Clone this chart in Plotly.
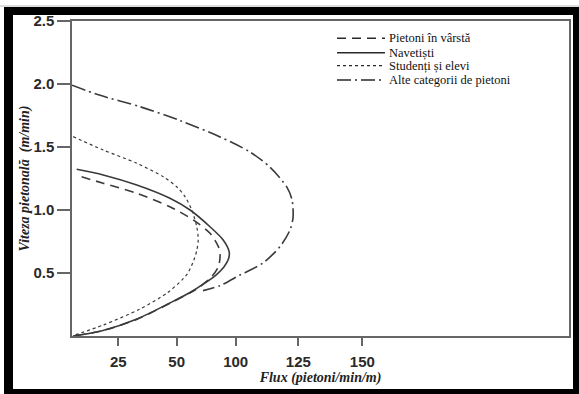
import plotly.graph_objects as go

# ---- data (flux in axis units, speed in m/min) ----
tick_pos = [19.3, 43.6, 68.2, 94.3, 121.0]
tick_lbl = ["25", "50", "100", "125", "150"]
y_tick_vals = [0.5, 1.0, 1.5, 2.0, 2.5]
y_tick_lbl = ["0.5", "1.0", "1.5", "2.0", "2.5"]

varsta_flux = [4.0, 13.0, 27.0, 40.8, 50.5, 57.5, 61.0, 61.7, 61.0, 58.2, 53.3, 49.2, 40.8, 27.1, 12.9, 0.4]
varsta_speed = [1.264, 1.212, 1.133, 1.026, 0.921, 0.815, 0.709, 0.643, 0.550, 0.471, 0.391, 0.343, 0.260, 0.133, 0.043, 0.0]

navet_flux = [1.96, 13.0, 27.0, 40.8, 49.2, 57.5, 63.0, 65.5, 65.2, 63.3, 60.0, 55.4, 49.2, 40.8, 27.1, 12.9, 0.4]
navet_speed = [1.323, 1.278, 1.198, 1.093, 1.0, 0.867, 0.762, 0.667, 0.611, 0.548, 0.484, 0.421, 0.345, 0.262, 0.135, 0.044, 0.0]

stud_flux = [0.5, 13.0, 27.0, 38.0, 43.6, 47.1, 49.9, 52.0, 52.6, 52.0, 50.8, 48.3, 45.8, 39.6, 28.3, 13.0, 0.5]
stud_speed = [1.582, 1.476, 1.371, 1.264, 1.185, 1.106, 1.0, 0.867, 0.762, 0.680, 0.603, 0.5, 0.444, 0.341, 0.214, 0.087, 0.004]

alte_flux = [0.0, 11.7, 28.3, 45.0, 61.7, 74.2, 82.5, 89.6, 91.7, 92.1, 90.8, 86.7, 79.6, 70.0, 61.7, 54.6]
alte_speed = [1.99, 1.91, 1.82, 1.71, 1.58, 1.46, 1.34, 1.18, 1.08, 0.94, 0.84, 0.71, 0.58, 0.484, 0.40, 0.36]

names = ["Pietoni în vârstă", "Navetiști", "Studenți și elevi", "Alte categorii de pietoni"]
dashes = ["9px,6px", "solid", "dot", "14px,4px,2px,4px"]
widths = [1.6, 1.6, 1.2, 1.6]

W, H = 579, 394
L, R, T, B = 72, 10, 21, 58
PW, PH = W - L - R, H - T - B

def px(x):
    return (x - L) / PW

def py(y):
    return (H - B - y) / PH

fig = go.Figure()
series = [(varsta_flux, varsta_speed), (navet_flux, navet_speed),
          (stud_flux, stud_speed), (alte_flux, alte_speed)]
for (xs, ys), nm, d, w in zip(series, names, dashes, widths):
    fig.add_trace(go.Scatter(x=xs, y=ys, mode="lines", name=nm,
                             line=dict(color="#3a3a3a", width=w, dash=d,
                                       shape="spline", smoothing=0.8),
                             showlegend=False))

shapes = []
annotations = []
# manual legend
rows_y = [38.3, 52.7, 65.7, 80.0]
for ry, nm, d, w in zip(rows_y, names, dashes, widths):
    shapes.append(dict(type="line", xref="paper", yref="paper",
                       x0=px(337), x1=px(385), y0=py(ry), y1=py(ry),
                       line=dict(color="#2a2a2a", width=w, dash=d)))
    annotations.append(dict(xref="paper", yref="paper", x=px(387), y=py(ry),
                            xanchor="left", yanchor="middle", showarrow=False,
                            text=nm, font=dict(family="Liberation Serif", size=12.5, color="#111")))

# outer black frame
for (x0, x1, y0, y1) in [(4, 579, 7, 15), (4, 13, 7, 394), (573, 579, 7, 394), (4, 579, 389, 394)]:
    shapes.append(dict(type="rect", xref="paper", yref="paper",
                       x0=px(x0), x1=px(x1), y0=py(y0), y1=py(y1),
                       fillcolor="black", line=dict(width=0), layer="above"))
shapes.append(dict(type="line", xref="paper", yref="paper", x0=px(0), x1=px(579),
                   y0=py(6), y1=py(6), line=dict(color="#bbbbbb", width=1)))

tick_font = dict(family="Liberation Sans Narrow, Liberation Sans, Arial, sans-serif",
                 size=15, color="#2a2a2a", weight="bold")
title_font = dict(family="Liberation Serif", size=14, color="#222")

fig.update_layout(
    width=W, height=H, margin=dict(l=L, r=R, t=T, b=B),
    paper_bgcolor="white", plot_bgcolor="white",
    shapes=shapes, annotations=annotations,
    xaxis=dict(range=[0, 207.1], tickvals=tick_pos, ticktext=tick_lbl,
               showgrid=False, zeroline=False, showline=True, mirror=True,
               linecolor="#666", linewidth=1.5, ticks="outside", ticklen=8,
               tickwidth=1.5, tickcolor="#666", tickfont=tick_font,
               ticklabelstandoff=3, automargin=False,
               title=dict(text="<b><i>Flux (pietoni/min/m)</i></b>", font=title_font, standoff=2)),
    yaxis=dict(range=[0, 2.5], tickvals=y_tick_vals, ticktext=y_tick_lbl,
               showgrid=False, zeroline=False, showline=True, mirror=True,
               linecolor="#666", linewidth=1.5, ticks="outside", ticklen=13,
               tickwidth=1.5, tickcolor="#666", tickfont=tick_font, automargin=False,
               title=dict(text="<b><i>Viteza pietonală  (m/min)</i></b>", font=title_font, standoff=0)),
)

fig.write_html("out.html", config={"displayModeBar": False},
               post_script="document.body.style.margin='0';")
